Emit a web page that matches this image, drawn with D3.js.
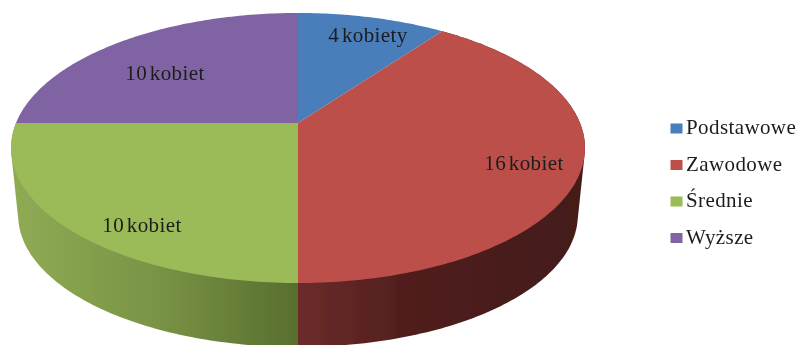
<!DOCTYPE html>
<html lang="pl">
<head>
<meta charset="utf-8">
<script src="https://cdn.jsdelivr.net/npm/d3@7"></script>
<style>
html,body{margin:0;padding:0;background:#fff;overflow:hidden}
text{font-family:"Liberation Serif",serif;fill:#1c1c1c}
</style>
</head>
<body>
<svg id="c" width="798" height="345"></svg>
<script>
const categories = ["Podstawowe", "Zawodowe", "Średnie", "Wyższe"];
const values = [4, 16, 10, 10];
const labels = ["4 kobiety", "16 kobiet", "10 kobiet", "10 kobiet"];
const colors = ["#4a7ebb", "#bd4f4c", "#9bbb59", "#8064a2"];

// layout
const apex = {x: 298, y: 123};
const persp = -0.185, bx = 282, ay = 130.4;
const wallScale = 0.975, wallDrop = 68;
const labelPos = [[368, 36], [524, 164], [142, 226], [165, 74]];

const svg = d3.select("#c");
const defs = svg.append("defs");
defs.append("filter").attr("id", "soft").attr("x", "-5%").attr("y", "-5%").attr("width", "110%").attr("height", "110%")
  .append("feGaussianBlur").attr("stdDeviation", 0.5);

function grad(id, x1, x2, stops) {
  const g = defs.append("linearGradient").attr("id", id)
    .attr("gradientUnits", "userSpaceOnUse").attr("x1", x1).attr("x2", x2).attr("y1", 0).attr("y2", 0);
  stops.forEach(s => g.append("stop").attr("offset", s[0]).attr("stop-color", s[1]));
}
grad("wallGreen", 11, 298, [[0, "#90ab54"], [0.5, "#7a9446"], [1, "#586e2e"]]);
grad("wallRed", 298, 586, [[0, "#6c2c2a"], [0.35, "#521f1f"], [1, "#431a19"]]);

const color = d3.scaleOrdinal().domain(categories).range(colors);
const arcs = d3.pie().sort(null)(values);

function project(theta, scale, drop) {
  const u = Math.sin(theta), v = -Math.cos(theta), w = 1 + persp * v;
  return [apex.x + scale * bx * u / w, apex.y + drop + scale * ay * v / w];
}
function rim(a, scale, drop) {
  const n = Math.max(2, Math.ceil((a.endAngle - a.startAngle) * 60));
  return d3.range(n + 1).map(i => project(a.startAngle + (a.endAngle - a.startAngle) * i / n, scale, drop));
}

const g = svg.append("g").attr("filter", "url(#soft)");
const line = d3.line();

// side wall: only the two slices that face the viewer
const wallFill = {"Zawodowe": "url(#wallRed)", "Średnie": "url(#wallGreen)"};
arcs.forEach((a, i) => {
  const f = wallFill[categories[i]];
  if (!f) return;
  const hull = d3.polygonHull(rim(a, 1, 0).concat(rim(a, wallScale, wallDrop)));
  g.append("path").attr("d", line(hull) + "Z").attr("fill", f);
});

// top face
arcs.forEach((a, i) => {
  const pts = [[apex.x, apex.y]].concat(rim(a, 1, 0));
  g.append("path").attr("d", line(pts) + "Z").attr("fill", color(categories[i]));
});

// data labels
labels.forEach((t, i) => {
  g.append("text").attr("x", labelPos[i][0]).attr("y", labelPos[i][1] + 6)
    .attr("text-anchor", "middle").attr("font-size", 21).attr("letter-spacing", 0.4).attr("word-spacing", -3).text(t);
});

// legend
const legendY = d3.scalePoint().domain(categories).range([128.5, 238]);
const lg = g.append("g");
categories.forEach(c => {
  lg.append("rect").attr("x", 670.5).attr("y", legendY(c) - 5).attr("width", 12).attr("height", 10).attr("fill", color(c));
  lg.append("text").attr("x", 686).attr("y", legendY(c) + 5.5).attr("font-size", 21).attr("letter-spacing", 0.4).text(c);
});
</script>
</body>
</html>
